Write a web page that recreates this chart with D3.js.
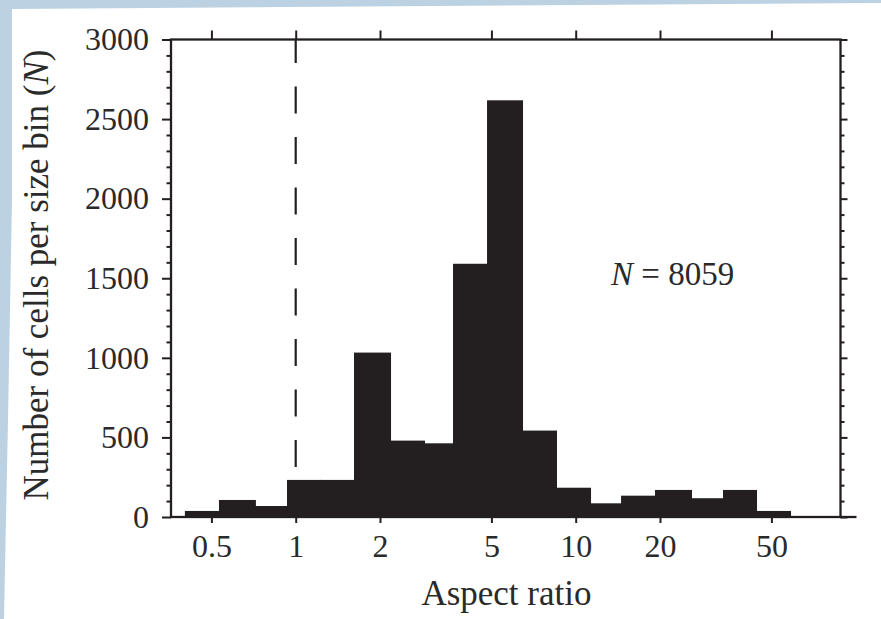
<!DOCTYPE html>
<html>
<head>
<meta charset="utf-8">
<script src="https://cdn.jsdelivr.net/npm/d3@7"></script>
<style>
  html, body { margin: 0; padding: 0; background: #bcd2e3; }
  svg { display: block; }
</style>
</head>
<body>
<script>
// histogram bins (aspect ratio, log spaced) and counts
var binEdges = [0.402, 0.532, 0.715, 0.931, 1.221, 1.615, 2.172, 2.872, 3.646, 4.823,
                6.431, 8.503, 11.25, 14.52, 19.20, 25.81, 33.59, 44.05, 58.27];
var counts = [38, 107, 69, 233, 233, 1033, 480, 463, 1591, 2618,
              543, 184, 86, 134, 170, 118, 170, 38];

var xTicks = [0.5, 1, 2, 5, 10, 20, 50];
var yMajor = [0, 500, 1000, 1500, 2000, 2500, 3000];
var yMinor = d3.range(0, 3001, 100).filter(function(d) { return d % 500 != 0; });

var totalN = "8059";
var refLine = 1;

var svgWidth = 881, svgHeight = 619;
var margin = {top: 39.5, right: 40.5, bottom: 102, left: 171},
    width = svgWidth - margin.left - margin.right,
    height = svgHeight - margin.top - margin.bottom;

var ink = "#231f20";
var serif = "'Liberation Serif', 'Times New Roman', serif";

var root = d3.select("body").append("svg")
    .attr("width", svgWidth)
    .attr("height", svgHeight);

// scanned page edge: light blue strip top and left
root.append("rect").attr("width", svgWidth).attr("height", svgHeight).attr("fill", "#bcd2e3");
root.append("polygon")
    .attr("points", "12,9 881,3 881,619 4,619 8,420 12,200")
    .attr("fill", "#ffffff");

var svg = root.append("g")
    .attr("transform", "translate(" + margin.left + "," + margin.top + ")");

var x = d3.scaleLog().domain([0.3586, 88.25]).range([0, width]);
var y = d3.scaleLinear().domain([0, 3000]).range([height, 0]);

var bins = counts.map(function(c, i) {
  return {x0: binEdges[i], x1: binEdges[i + 1], n: c};
});

// dashed reference line at aspect ratio 1
svg.append("line")
    .attr("x1", x(refLine)).attr("x2", x(refLine))
    .attr("y1", 0).attr("y2", height)
    .attr("stroke", ink)
    .attr("stroke-width", 2.2)
    .attr("stroke-dasharray", "27 23.5")
    .attr("stroke-dashoffset", 3.5);

// bars
svg.append("g")
  .selectAll("rect")
  .data(bins)
  .enter()
  .append("rect")
    .attr("x", function(d) { return x(d.x0); })
    .attr("width", function(d) { return x(d.x1) - x(d.x0) + 1; })
    .attr("y", function(d) { return y(d.n); })
    .attr("height", function(d) { return height - y(d.n); })
    .attr("fill", ink);

function styleAxis(g) {
  g.select(".domain").remove();
  g.selectAll(".tick line").attr("stroke", ink).attr("stroke-width", 2);
  g.selectAll("text")
    .attr("fill", "#2a2a2a")
    .attr("font-family", serif)
    .attr("font-size", 32);
}

// bottom axis
svg.append("g")
    .attr("transform", "translate(0," + height + ")")
    .call(d3.axisBottom(x).tickValues(xTicks).tickSize(6).tickPadding(11.5)
      .tickFormat(function(d) { return String(d); }))
    .call(styleAxis);

// top axis, ticks only
svg.append("g")
    .call(d3.axisTop(x).tickValues(xTicks).tickSize(9).tickFormat(""))
    .call(styleAxis);

// left axis
svg.append("g")
    .call(d3.axisLeft(y).tickValues(yMajor).tickSize(9).tickPadding(13).tickFormat(d3.format("d")))
    .call(styleAxis);
svg.append("g")
    .call(d3.axisLeft(y).tickValues(yMinor).tickSize(4.5).tickFormat(""))
    .call(styleAxis);

// right axis
svg.append("g")
    .attr("transform", "translate(" + width + ",0)")
    .call(d3.axisRight(y).tickValues(yMajor).tickSize(7).tickFormat(""))
    .call(styleAxis);
svg.append("g")
    .attr("transform", "translate(" + width + ",0)")
    .call(d3.axisRight(y).tickValues(yMinor).tickSize(4).tickFormat(""))
    .call(styleAxis);

// frame
svg.append("rect")
    .attr("width", width).attr("height", height)
    .attr("fill", "none")
    .attr("stroke", ink)
    .attr("stroke-width", 2.3);
svg.append("line")
    .attr("x1", width).attr("x2", width + 16)
    .attr("y1", height).attr("y2", height)
    .attr("stroke", ink).attr("stroke-width", 2.3);

// axis titles
svg.append("text")
    .attr("x", x(5) + 15)
    .attr("y", height + 88)
    .attr("text-anchor", "middle")
    .attr("font-family", serif)
    .attr("font-size", 35)
    .attr("fill", "#2a2a2a")
    .text("Aspect ratio");

var yt = svg.append("text")
    .attr("transform", "translate(" + (48 - margin.left) + "," + (275 - margin.top) + ") rotate(-90)")
    .attr("text-anchor", "middle")
    .attr("font-family", serif)
    .attr("font-size", 35)
    .attr("fill", "#2a2a2a");
yt.append("tspan").text("Number of cells per size bin (");
yt.append("tspan").attr("font-style", "italic").text("N");
yt.append("tspan").text(")");

// annotation
var ann = svg.append("text")
    .attr("x", 611 - margin.left)
    .attr("y", 285 - margin.top)
    .attr("font-family", serif)
    .attr("font-size", 33)
    .attr("fill", "#2a2a2a");
ann.append("tspan").attr("font-style", "italic").text("N");
ann.append("tspan").text(" = " + totalN);
</script>
</body>
</html>
